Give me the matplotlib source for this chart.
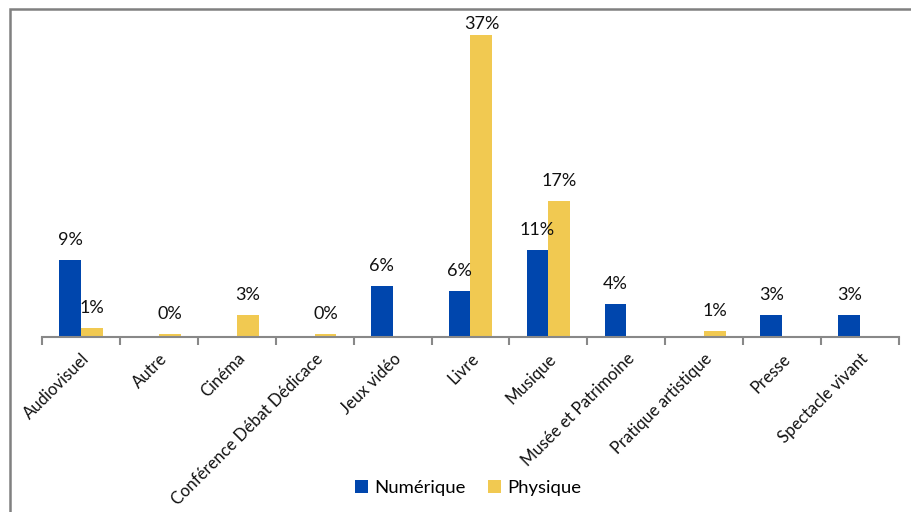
import numpy as np
import matplotlib
matplotlib.use("Agg")
import matplotlib.pyplot as plt
from matplotlib.patches import Rectangle

categories = ["Audiovisuel", "Autre", "Cinéma", "Conférence Débat Dédicace",
              "Jeux vidéo", "Livre", "Musique", "Musée et Patrimoine",
              "Pratique artistique", "Presse", "Spectacle vivant"]
numerique = [9.4, np.nan, np.nan, np.nan, 6.2, 5.6, 10.6, 4.0, np.nan, 2.6, 2.6]
physique = [1.0, 0.3, 2.6, 0.3, np.nan, 37.0, 16.6, np.nan, 0.7, np.nan, np.nan]
series_names = ["Numérique", "Physique"]

BLUE = "#0046AD"
YELLOW = "#F1C951"
GRAY = "#888888"

plt.rcParams["font.family"] = ["Lato", "DejaVu Sans"]

W, H = 912, 512
fig = plt.figure(figsize=(W / 100, H / 100), dpi=100)
ax_left, ax_right = 42 / W, 899 / W
ax_bottom = (H - 336.5) / H
ymax = 40
px_per_unit = 8.16
ax_h = ymax * px_per_unit / H
ax = fig.add_axes([ax_left, ax_bottom, ax_right - ax_left, ax_h])

x = np.arange(len(categories))
bw = 0.28
b1 = ax.bar(x - bw / 2, numerique, bw, color=BLUE, label=series_names[0])
b2 = ax.bar(x + bw / 2, physique, bw, color=YELLOW, label=series_names[1])

# label offset in pixels, clamped so that the label stays inside the chart area
label_gap_px = 12
label_h_px = 15
top_limit_px = 17  # distance from top of figure for top of label text
for xs, vals in ((x - bw / 2, numerique), (x + bw / 2, physique)):
    for xi, v in zip(xs, vals):
        if not np.isnan(v):
            bar_top_px = 336.5 - v * px_per_unit  # from top of figure
            gap = min(label_gap_px, bar_top_px - label_h_px - top_limit_px)
            ax.annotate(f"{v:.0f}%", (xi, v), xytext=(0, gap * 0.72),
                        textcoords="offset points",
                        ha="center", va="bottom", fontsize=13, color="#111111")

ax.set_xlim(-0.5, len(categories) - 0.5)
ax.set_ylim(0, ymax)
for s in ("top", "right", "left"):
    ax.spines[s].set_visible(False)
ax.spines["bottom"].set_color(GRAY)
ax.spines["bottom"].set_linewidth(1.5)
ax.set_yticks([])
ax.set_xticks(x)
ax.set_xticklabels(categories, rotation=45, ha="right", rotation_mode="anchor",
                   fontsize=12, color="#111111")
ax.tick_params(axis="x", which="major", length=0, pad=10)
ax.set_xticks(np.arange(-0.5, len(categories)), minor=True)
ax.tick_params(axis="x", which="minor", length=6, width=1.5, color=GRAY, direction="out")

fig.legend(handles=[b1, b2], labels=series_names, loc="center",
           bbox_to_anchor=(468 / W, 1 - 488 / H), ncol=2, frameon=False,
           fontsize=13.3, handlelength=0.7, handleheight=0.7, handletextpad=0.35,
           columnspacing=1.2)

fig.patches.append(Rectangle((10 / W, -0.1), 1.2, 1.1 - 9 / H, transform=fig.transFigure,
                             fill=False, edgecolor="#808080", linewidth=1.8, clip_on=False))

fig.savefig("out.png", dpi=100, facecolor="white")
